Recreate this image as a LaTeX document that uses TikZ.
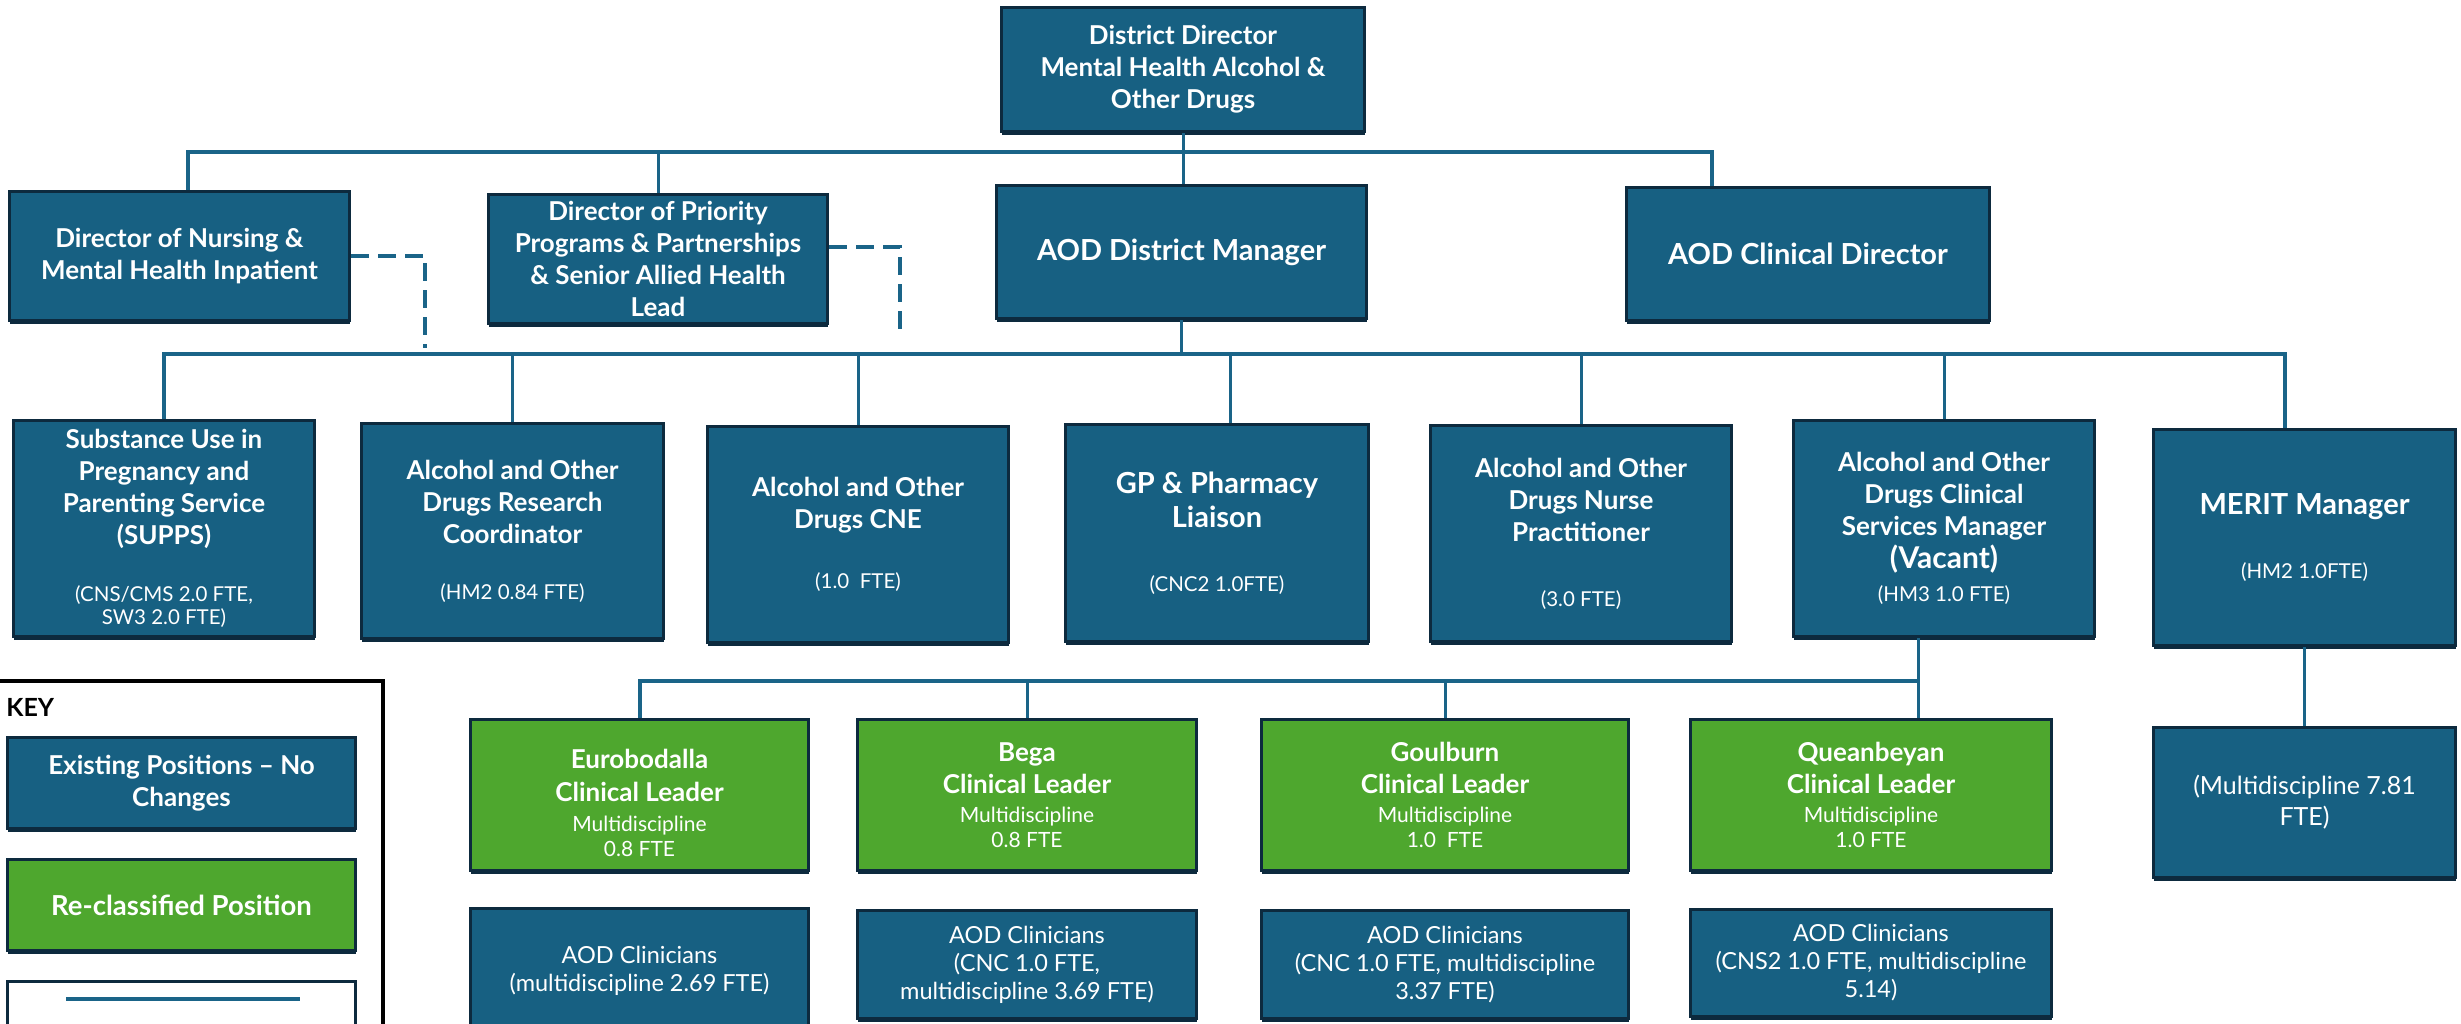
\documentclass[tikz,border=0pt]{standalone}
\usepackage{fontspec}
\setmainfont{Lato}
\usetikzlibrary{shadows}
\definecolor{bl}{HTML}{176082}
\definecolor{gr}{HTML}{4EA72E}
\definecolor{dk}{HTML}{0D2A3E}
\definecolor{cn}{HTML}{1A6488}
\newcommand\tb{\fontsize{13}{16}\selectfont\bfseries}
\newcommand\tbig{\fontsize{14.5}{16}\selectfont\bfseries}
\newcommand\tsm{\fontsize{10.25}{16}\selectfont\mdseries}
\newcommand\tgr{\fontsize{10.5}{16}\selectfont\mdseries}
\newcommand\tcl{\fontsize{11.75}{16}\selectfont\mdseries}
\newcommand\tmr{\fontsize{12.5}{16}\selectfont\mdseries}
\newcommand\tgp{\fontsize{14.5}{16}\selectfont\bfseries}
\newcommand\tva{\fontsize{15}{16}\selectfont\bfseries}
\newcommand\orgbox[7]{%
  \pgfmathsetmacro\bxc{(#2+#4)/2}%
  \pgfmathsetmacro\byc{(#3+#5)/2}%
  \pgfmathsetmacro\bxw{(#4-#2)/2-1.5}%
  \pgfmathsetmacro\byh{(#5-#3)/2-1.5}%
  \node[#1, minimum width=\bxw pt, minimum height=\byh pt] (#6) at (\bxc,\byc) {#7};}
\begin{document}
\begin{tikzpicture}[x=0.5pt,y=-0.5pt,
  bluebox/.style={draw=dk, line width=1.5pt, fill=bl, text=white, align=center, inner sep=0pt, font=\tb,
    drop shadow={shadow xshift=0pt, shadow yshift=-1.5pt, opacity=1, fill=dk}},
  greenbox/.style={bluebox, fill=gr},
  whitebox/.style={bluebox, fill=white},
  conn/.style={draw=cn, line width=1.5pt},
  busline/.style={draw=cn, line width=2pt},
  dashconn/.style={draw=cn, line width=2pt, dash pattern=on 9pt off 4.5pt},
  keyframe/.style={draw=black, line width=2pt, fill=white, inner sep=0pt},
]
\fill[white] (0,0) rectangle (2461,1023);
\useasboundingbox (0,0) rectangle (2461,1023);

% level 0 / 1
\orgbox{bluebox}{1000}{6}{1366}{133}{dd}{District Director\\Mental Health Alcohol \&\\Other Drugs}
\orgbox{bluebox}{8}{190}{351}{322}{dirnurs}{Director of Nursing \&\\Mental Health Inpatient}
\orgbox{bluebox}{487}{193}{829}{325}{dirprio}{Director of Priority\\Programs \& Partnerships\\\& Senior Allied Health\\Lead}
\orgbox{bluebox}{995}{184}{1368}{320}{aoddm}{\tbig AOD District Manager}
\orgbox{bluebox}{1625}{186}{1991}{322}{clindir}{\tbig AOD Clinical Director}

% level 2
\orgbox{bluebox}{12}{419}{316}{638}{supps}{Substance Use in\\Pregnancy and\\Parenting Service\\(SUPPS)\\[12.5pt]\tsm (CNS/CMS 2.0 FTE,\\[-4.5pt]\tsm SW3 2.0 FTE)}
\orgbox{bluebox}{360}{422}{665}{640}{research}{Alcohol and Other\\Drugs Research\\Coordinator\\[12pt]\tsm (HM2 0.84 FTE)}
\orgbox{bluebox}{706}{425}{1010}{644}{cne}{Alcohol and Other\\Drugs CNE\\[14pt]\tsm (1.0\ \ FTE)}
\orgbox{bluebox}{1064}{423}{1370}{643}{gp}{\tgp GP \& Pharmacy\\[1pt]\tgp Liaison\\[16pt]\tsm (CNC2 1.0FTE)}
\orgbox{bluebox}{1429}{424}{1733}{643}{np}{Alcohol and Other\\Drugs Nurse\\Practitioner\\[16.5pt]\tsm (3.0 FTE)}
\orgbox{bluebox}{1792}{419}{2096}{638}{csm}{Alcohol and Other\\Drugs Clinical\\Services Manager\\[0.5pt]\tva (Vacant)\\[0.5pt]\tsm (HM3 1.0 FTE)}
\orgbox{bluebox}{2152}{428}{2457}{647}{merit}{\tbig MERIT Manager\\[16pt]\tsm (HM2 1.0FTE)}

% level 3
\orgbox{greenbox}{469}{718}{810}{872}{euro}{\rule{0pt}{17.5pt}Eurobodalla\\[0.5pt]Clinical Leader\\[-1pt]\tgr Multidiscipline\\[-3.5pt]\tgr 0.8 FTE}
\orgbox{greenbox}{856}{718}{1198}{872}{bega}{Bega\\Clinical Leader\\[-1.5pt]\tgr Multidiscipline\\[-3.5pt]\tgr 0.8 FTE}
\orgbox{greenbox}{1260}{718}{1630}{872}{goul}{Goulburn\\Clinical Leader\\[-1.5pt]\tgr Multidiscipline\\[-3.5pt]\tgr 1.0\ \ FTE}
\orgbox{greenbox}{1689}{718}{2053}{872}{quean}{Queanbeyan\\Clinical Leader\\[-1.5pt]\tgr Multidiscipline\\[-3.5pt]\tgr 1.0 FTE}
\orgbox{bluebox}{2152}{726}{2457}{879}{meritsub}{\tmr (Multidiscipline 7.81\\[-0.5pt]\tmr FTE)}

% level 4
\orgbox{bluebox}{469}{907}{810}{1035}{euroc}{\tcl AOD Clinicians\\[-2pt]\tcl (multidiscipline 2.69 FTE)}
\orgbox{bluebox}{856}{909}{1198}{1020}{begac}{\tcl AOD Clinicians\\[-2pt]\tcl (CNC 1.0 FTE,\\[-2pt]\tcl multidiscipline 3.69 FTE)}
\orgbox{bluebox}{1260}{909}{1630}{1020}{goulc}{\tcl AOD Clinicians\\[-2pt]\tcl (CNC 1.0 FTE, multidiscipline\\[-2pt]\tcl 3.37 FTE)}
\orgbox{bluebox}{1689}{908}{2053}{1018}{queanc}{\tcl AOD Clinicians\\[-2pt]\tcl (CNS2 1.0 FTE, multidiscipline\\[-2pt]\tcl 5.14)}

% key
\orgbox{keyframe}{-5}{679}{384}{1045}{keybox}{}
\node[anchor=west, text=black, inner sep=0pt, font=\fontsize{12.5}{15}\selectfont\bfseries] (keytitle) at (6,707) {KEY};
\orgbox{bluebox}{6}{736}{357}{830}{keyex}{Existing Positions -- No\\Changes}
\orgbox{greenbox}{6}{858}{357}{952}{keyre}{\fontsize{13.75}{16}\selectfont Re-classified Position}
\orgbox{whitebox}{6}{980}{357}{1045}{keyln}{}
\coordinate (kl1) at (66,999);
\coordinate (kl2) at (300,999);
\draw[cn, line width=2pt] (kl1) -- (kl2);

% connectors
\coordinate (bus1) at (0,152);
\coordinate (bus2) at (0,354);
\coordinate (bus3) at (1918,681);
\coordinate (dntop) at ([xshift=4.25pt]dirnurs.north);
\coordinate (cdtop) at ([xshift=-48pt]clindir.north);
\coordinate (gptop) at ([xshift=6.5pt]gp.north);
\coordinate (mrtop) at ([xshift=-9.75pt]merit.north);
\coordinate (csmbot) at ([xshift=-13pt]csm.south);
\coordinate (dash1) at (425,348);
\coordinate (dash2) at (900,338);

\draw[conn] (dd.south) -- (dd.south |- aoddm.north);
\draw[busline] (dntop) |- (cdtop |- bus1) -- (cdtop);
\draw[conn] (dirprio.north) -- (dirprio.north |- bus1);

\draw[busline] (supps.north) |- (mrtop |- bus2) -- (mrtop);
\draw[conn] (aoddm.south) -- (aoddm.south |- bus2);
\foreach \n in {research,cne,np,csm} \draw[conn] (\n.north) -- (\n.north |- bus2);
\draw[conn] (gptop) -- (gptop |- bus2);

\draw[busline] (euro.north) |- (bus3);
\draw[conn] (csmbot) -- (csmbot |- quean.north);
\foreach \n in {bega,goul} \draw[conn] (\n.north) -- (\n.north |- bus3);
\draw[conn] (merit.south) -- (meritsub.north);

\draw[dashconn] (dirnurs.east) -| (dash1);
\draw[dashconn] ([yshift=6pt]dirprio.east) -| (dash2);
\end{tikzpicture}
\end{document}
